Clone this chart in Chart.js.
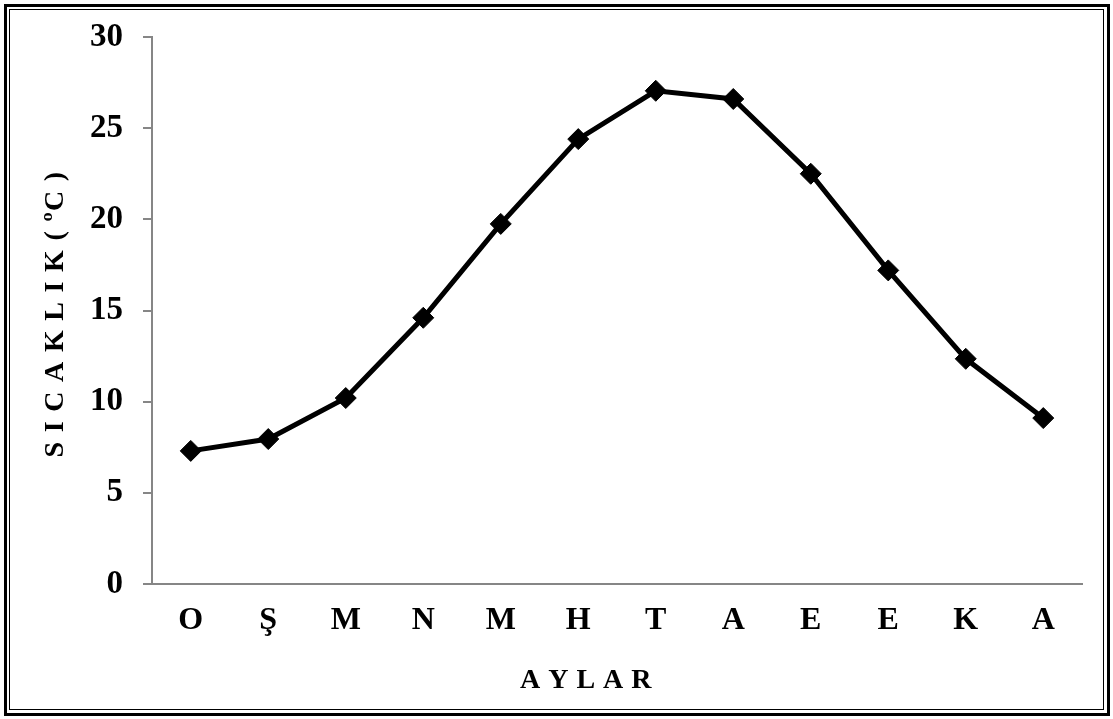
<!DOCTYPE html>
<html>
<head>
<meta charset="utf-8">
<script src="https://cdn.jsdelivr.net/npm/chart.js@4"></script>
<style>
  html, body { margin: 0; padding: 0; background: #fff; }
  .wrap { position: relative; width: 1113px; height: 719px; }
  .frame-outer { position: absolute; left: 4px; top: 4px; width: 1100px; height: 706px; border: 3px solid #000; pointer-events: none; }
  .frame-inner { position: absolute; left: 9px; top: 9px; width: 1093px; height: 699px; border: 1.5px solid #000; pointer-events: none; }
  canvas { position: absolute; left: 0; top: 0; }
</style>
</head>
<body>
<div class="wrap">
  <canvas id="chart" width="1113" height="719"></canvas>
  <div class="frame-outer"></div>
  <div class="frame-inner"></div>
</div>
<script>
// Monthly mean temperature
const MONTHS = ["O", "Ş", "M", "N", "M", "H", "T", "A", "E", "E", "K", "A"];
const TEMPS = [7.3, 7.95, 10.2, 14.6, 19.75, 24.4, 27.05, 26.6, 22.5, 17.2, 12.35, 9.1];
const Y_TICKS = [0, 5, 10, 15, 20, 25, 30];

const X_TITLE = "A Y L A R";
const Y_TITLE = "S I C A K L I K ( ºC )";

const FONT = "'Liberation Serif', 'Times New Roman', serif";
const AXIS_GRAY = "#868686";

// Draws the spaced-out axis titles (Chart.js titles have no letter spacing).
const axisTitles = {
  id: "axisTitles",
  afterDraw(chart) {
    const { ctx } = chart;
    ctx.save();
    ctx.fillStyle = "#000";
    ctx.font = `bold 28px ${FONT}`;
    ctx.textAlign = "center";
    ctx.textBaseline = "middle";
    ctx.letterSpacing = "0.5px";
    ctx.fillText(X_TITLE, 586, 681);
    ctx.translate(56, 314);
    ctx.rotate(-Math.PI / 2);
    ctx.letterSpacing = "1.3px";
    ctx.fillText(Y_TITLE, 0, 0);
    ctx.restore();
  },
};

new Chart(document.getElementById("chart"), {
  type: "line",
  data: {
    labels: MONTHS,
    datasets: [
      {
        data: TEMPS,
        borderColor: "#000",
        backgroundColor: "#000",
        borderWidth: 5,
        pointStyle: "rectRot",
        pointRadius: 10.5,
        pointBorderWidth: 1,
        pointBackgroundColor: "#000",
        pointBorderColor: "#000",
        tension: 0,
        fill: false,
      },
    ],
  },
  options: {
    responsive: false,
    animation: false,
    layout: { padding: { top: 37, right: 31, left: 0, bottom: 0 } },
    plugins: {
      legend: { display: false },
      tooltip: { enabled: false },
    },
    scales: {
      x: {
        offset: true,
        grid: { display: true, drawOnChartArea: false, drawTicks: false },
        border: { display: true, color: AXIS_GRAY, width: 2 },
        ticks: {
          color: "#000",
          font: { family: FONT, size: 32, weight: "bold" },
          padding: 18,
          maxRotation: 0,
          autoSkip: false,
        },
        afterFit(scale) { scale.height = 135; },
      },
      y: {
        min: 0,
        max: 30,
        afterBuildTicks(scale) { scale.ticks = Y_TICKS.map((v) => ({ value: v })); },
        grid: { display: true, drawOnChartArea: false, drawTicks: true, tickLength: 9, color: AXIS_GRAY, lineWidth: 2 },
        border: { display: true, color: AXIS_GRAY, width: 2 },
        ticks: {
          color: "#000",
          font: { family: FONT, size: 33, weight: "bold", lineHeight: 1 },
          padding: 20,
        },
        afterFit(scale) { scale.width = 152; },
      },
    },
  },
  plugins: [axisTitles],
});
</script>
</body>
</html>
